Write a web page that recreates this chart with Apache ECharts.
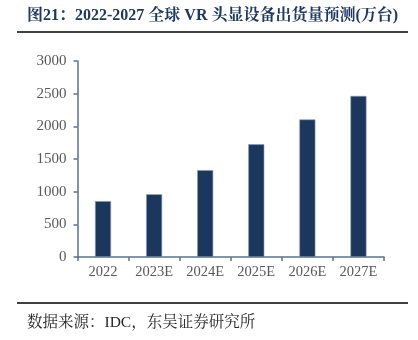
<!DOCTYPE html>
<html><head><meta charset="utf-8">
<script src="https://cdn.jsdelivr.net/npm/echarts@6/dist/echarts.min.js"></script>
<style>html,body{margin:0;padding:0;background:#fff}#c{width:418px;height:340px}</style>
</head><body><div id="c"></div>
<script>
var categories = ['2022','2023E','2024E','2025E','2026E','2027E'];
var shipments = [855, 960, 1330, 1725, 2105, 2465];
var yTicks = [0, 500, 1000, 1500, 2000, 2500, 3000];
var titleText = '图21：2022-2027 全球 VR 头显设备出货量预测(万台)';
var sourceText = '数据来源：IDC，东吴证券研究所';

var chart = echarts.init(document.getElementById('c'), null, {renderer:'canvas'});
var serif = '"Liberation Serif","DejaVu Serif","Noto Serif CJK SC","Noto Sans CJK SC",serif';
var axisColor = '#5b7190';
chart.setOption({
  animation:false,
  backgroundColor:'#fff',
  grid:{left:77.5, right:34, top:61, bottom:83, containLabel:false},
  xAxis:{type:'category', data:categories,
    axisLine:{lineStyle:{color:axisColor, width:1.5}},
    axisTick:{show:true, length:4, lineStyle:{color:axisColor, width:1.5}},
    axisLabel:{color:'#595959', fontFamily:serif, fontSize:14.5, margin:8}},
  yAxis:{type:'value', min:yTicks[0], max:yTicks[yTicks.length-1], interval:500,
    splitLine:{show:false},
    axisLine:{show:true, lineStyle:{color:axisColor, width:1.5}},
    axisTick:{show:true, length:4, lineStyle:{color:axisColor, width:1.5}},
    axisLabel:{color:'#595959', fontFamily:serif, fontSize:15, margin:11,
      formatter:function(v){return String(v);}}},
  series:[{type:'bar', data:shipments, barWidth:16,
    itemStyle:{color:'#1b375d', borderColor:'#8a9bb3', borderWidth:0.6}}],
  graphic:[
    {type:'text', left:27, top:8, style:{text:titleText, fill:'#1f3864', font:'bold 16px '+serif}},
    {type:'line', shape:{x1:17, y1:32, x2:408, y2:32}, style:{stroke:'#000', lineWidth:1.5}},
    {type:'line', shape:{x1:17, y1:303, x2:408, y2:303}, style:{stroke:'#000', lineWidth:1.5}},
    {type:'text', left:27, top:315, style:{text:sourceText, fill:'#262626', font:'15.5px '+serif}}
  ]
});
</script></body></html>
